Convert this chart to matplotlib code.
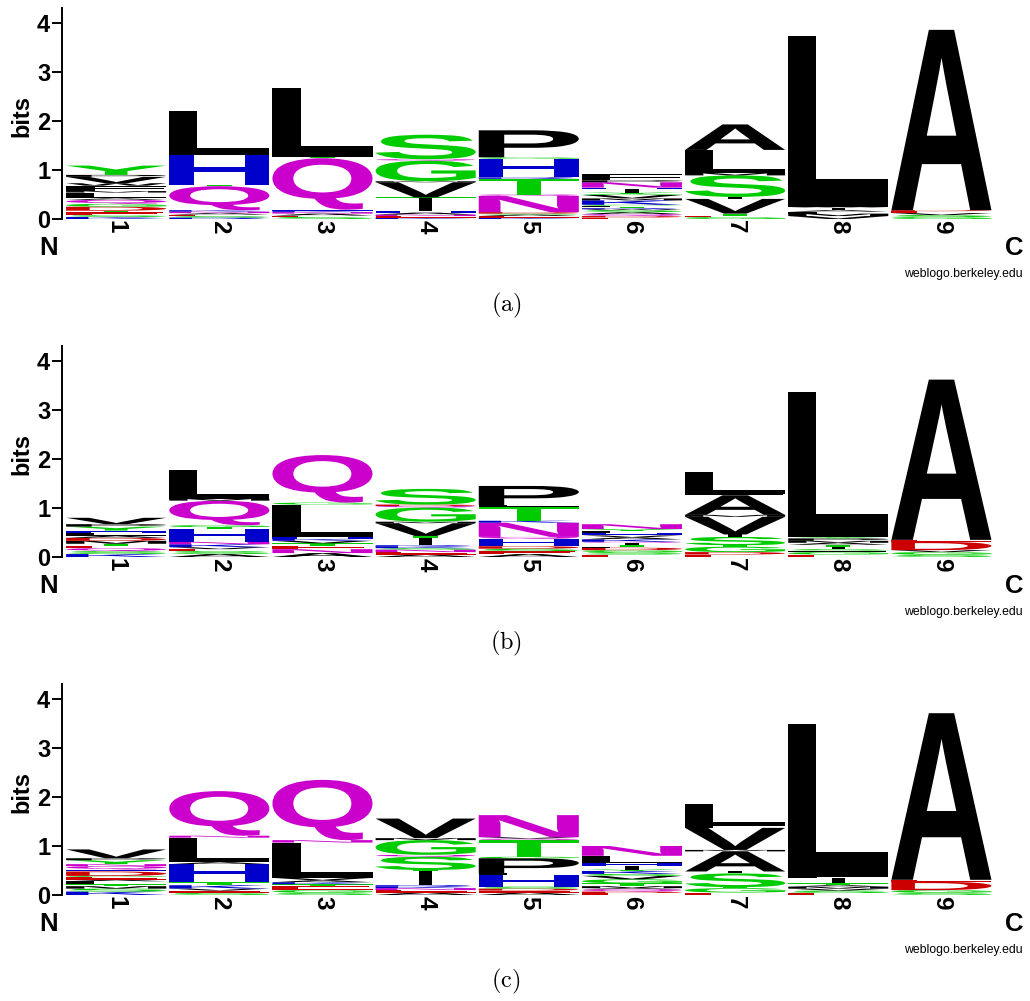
import matplotlib
matplotlib.use('Agg')
import matplotlib.pyplot as plt
from matplotlib.textpath import TextPath
from matplotlib.font_manager import FontProperties
from matplotlib.patches import PathPatch
from matplotlib.transforms import Affine2D

plt.rcParams['font.family'] = ['Liberation Sans', 'DejaVu Sans']
plt.rcParams['mathtext.fontset'] = 'cm'

positions = [1, 2, 3, 4, 5, 6, 7, 8, 9]
tick_labels = ['1', '2', '3', '4', '5', '6', '7', '8', '9']
panel_captions = ['(a)', '(b)', '(c)']

# letters listed bottom -> top for each position, with heights in bits
letters_a = ["KSETDGQALMFWVPY", "RSEANKQTHL", "SEANKHQTL", "KENAHITVMGQS",
             "KEASDNQTRHGP", "EDQASWRTLCKMVGYIHNPF", "GETVISMLFA", "VMFAIWL", "GSVEDA"]
heights_a = [[.04, .035, .065, .03, .08, .06, .08, .03, .12, .03, .11, .05, .13, .04, .19],
             [.03, .03, .03, .03, .03, .03, .49, .03, .60, .91],
             [.04, .03, .04, .03, .02, .03, 1.05, .03, 1.40],
             [.03, .03, .03, .04, .03, .26, .02, .31, .02, .42, .03, .50],
             [.03, .03, .03, .02, .03, .33, .03, .32, .03, .38, .03, .55],
             [.03, .03, .04, .04, .04, .02, .02, .02, .03, .02, .09, .04, .07, .02, .03, .07, .03, .11, .04, .13],
             [.04, .03, .04, .30, .04, .44, .05, .44, .03, .52],
             [.06, .05, .04, .03, .05, .01, 3.50],
             [.04, .04, .04, .04, .02, 3.68]]

letters_b = ["KSQETMDALHYPV", "ASEVKNHTGQML", "ANETVKHLGQ", "AENSKRITVMGQDS",
             "AESDHQNKTLP", "ESGDFTIQKAVHLYN", "EDGTSIVMAFL", "EGFSITAMPYL", "SGVDEA"]
heights_b = [[.06, .06, .06, .05, .04, .06, .06, .04, .07, .04, .08, .05, .13],
             [.06, .06, .04, .04, .06, .05, .27, .03, .04, .50, .04, .58],
             [.08, .08, .07, .05, .05, .04, .04, .66, .04, .97],
             [.05, .05, .05, .03, .04, .02, .14, .05, .26, .03, .29, .03, .03, .32],
             [.06, .06, .05, .05, .15, .04, .29, .04, .29, .03, .39],
             [.05, .05, .04, .05, .02, .04, .04, .02, .05, .04, .04, .04, .05, .04, .10],
             [.05, .05, .11, .03, .17, .05, .36, .04, .40, .03, .45],
             [.05, .05, .03, .03, .05, .04, .04, .04, .05, .03, 2.95],
             [.05, .05, .04, .17, .04, 3.27]]

letters_c = ["KSMTLAEGDHQNYPV", "SEVKTHALNQ", "SGETKAVLNQ", "AENKRITSQGMV",
             "AEDSHLPGTQVN", "EDQAMTGVSKYIHLFN", "EGTSIAMVFL", "ESVMATIFL", "SGDEA"]
heights_c = [[.07, .06, .05, .04, .06, .03, .06, .02, .09, .04, .07, .04, .08, .04, .18],
             [.05, .04, .04, .07, .06, .37, .04, .50, .04, .91],
             [.05, .05, .08, .04, .04, .04, .05, .72, .05, 1.23],
             [.05, .05, .04, .03, .03, .28, .03, .27, .04, .30, .04, .40],
             [.05, .04, .04, .04, .24, .03, .31, .03, .34, .03, .03, .45],
             [.04, .03, .05, .02, .04, .06, .08, .07, .04, .06, .03, .08, .05, .11, .04, .20],
             [.05, .09, .02, .28, .04, .41, .03, .45, .04, .44],
             [.04, .05, .04, .04, .03, .04, .11, .02, 3.13],
             [.05, .05, .17, .04, 3.40]]

colour_groups = {'GSTYC': '#00cc00', 'NQ': '#cc00cc', 'KRH': '#0000cc', 'DE': '#cc0000'}

FP = FontProperties(family='Liberation Sans', weight='bold')
_cache = {}


def letter_colour(ch):
    for k, v in colour_groups.items():
        if ch in k:
            return v
    return '#000000'


def glyph(ch):
    if ch not in _cache:
        p = TextPath((0, 0), ch, size=1, prop=FP)
        _cache[ch] = (p, p.get_extents())
    return _cache[ch]


def draw_stack(ax, x, letters, heights):
    y = 0.0
    for ch, h in zip(letters, heights):
        p, ext = glyph(ch)
        w = 0.13 if ch == 'I' else 0.97
        t = (Affine2D().translate(-ext.x0, -ext.y0)
             .scale(w / ext.width, h / ext.height)
             .translate(x - w / 2, y))
        ax.add_patch(PathPatch(t.transform_path(p), fc=letter_colour(ch),
                               ec='none', lw=0))
        y += h


W, H = 1030, 1001
fig = plt.figure(figsize=(W / 100, H / 100), dpi=100)

zero_px = [219, 557, 895]
panels = [(letters_a, heights_a), (letters_b, heights_b), (letters_c, heights_c)]
ax_left, ax_right = 62, 993
ax_h_px = 4.3 * 49

for (lets, hts), y0, cap in zip(panels, zero_px, panel_captions):
    ax = fig.add_axes([ax_left / W, 1 - y0 / H, (ax_right - ax_left) / W, ax_h_px / H])
    ax.set_xlim(0.475, 9.5)
    ax.set_ylim(0, 4.3)
    for s in ['top', 'right', 'bottom']:
        ax.spines[s].set_visible(False)
    ax.spines['left'].set_linewidth(1.4)
    ax.set_yticks([0, 1, 2, 3, 4])
    ax.set_yticklabels(['0', '1', '2', '3', '4'], fontsize=17, fontweight='bold')
    ax.tick_params(axis='y', length=7, width=1.4, pad=1.5)
    ax.set_xticks(positions)
    ax.set_xticklabels(tick_labels, rotation=-90, fontsize=17.5, fontweight='bold')
    ax.tick_params(axis='x', length=0, pad=1)
    for i, x in enumerate(positions):
        draw_stack(ax, x, lets[i], hts[i])
    ax.text(-0.043, 0.49, 'bits', transform=ax.transAxes, rotation=90,
            ha='center', va='center', fontsize=17, fontweight='bold')
    ax.text(-0.0145, -0.1376, 'N', transform=ax.transAxes, ha='center',
            va='center', fontsize=18.5, fontweight='bold')
    ax.text(1.0231, -0.1376, 'C', transform=ax.transAxes, ha='center',
            va='center', fontsize=18.5, fontweight='bold')
    ax.text(1.0322, -0.261, 'weblogo.berkeley.edu', transform=ax.transAxes,
            ha='right', va='center', fontsize=8.8)
    fig.text(506 / W, 1 - (y0 + 86) / H, r'$\mathrm{' + cap + '}$',
             ha='center', va='center', fontsize=17.5)

fig.savefig('out.png', dpi=100)
